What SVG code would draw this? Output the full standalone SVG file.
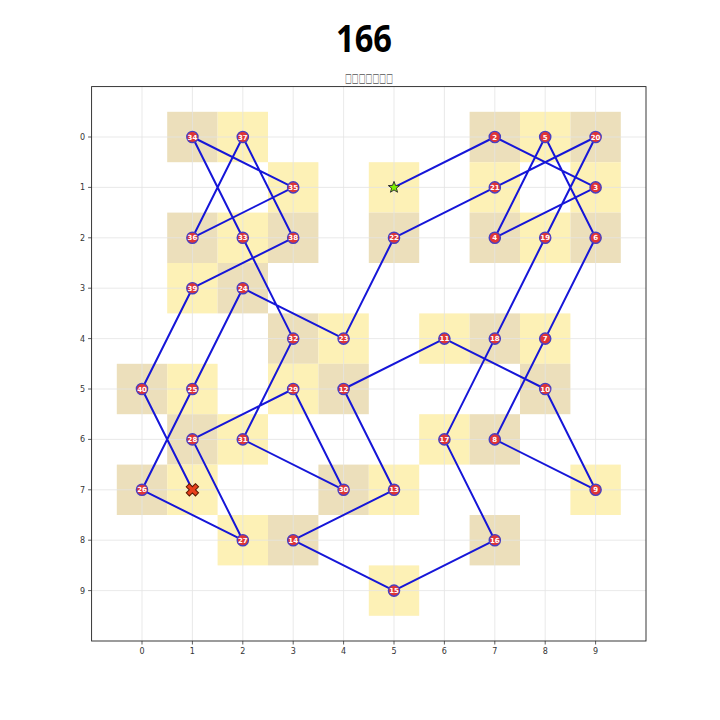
<svg xmlns="http://www.w3.org/2000/svg" width="720" height="720" viewBox="0 0 720 720">
<style>
.grid{stroke:#e3e3e3;stroke-width:0.8}
.cy{fill:#fdf1b6}
.ct{fill:#ecdfbb}
.tick{stroke:#333;stroke-width:0.8}
.tl{font-family:"DejaVu Sans",sans-serif;font-size:8px;fill:#333}
.nd circle{fill:#e03535;stroke:#4a3fc0;stroke-width:1.4}
.nd text{font-family:"DejaVu Sans",sans-serif;font-size:7px;font-weight:bold;fill:#fff;text-anchor:middle}
.path{fill:none;stroke:#1616d8;stroke-width:2;stroke-linejoin:round}
</style>
<rect width="720" height="720" fill="#fff"/>
<text x="336" y="52" font-family="Noto Sans,Open Sans,sans-serif" font-size="37" font-weight="bold" textLength="56" lengthAdjust="spacingAndGlyphs" fill="#000">166</text>
<text x="345" y="82" font-family="DejaVu Sans,sans-serif" font-size="12" textLength="48" lengthAdjust="spacingAndGlyphs" fill="#555">□□□□□□□</text>
<g id="cells">
<rect class="ct" x="167.2" y="111.8" width="50.4" height="50.4"/>
<rect class="cy" x="217.6" y="111.8" width="50.4" height="50.4"/>
<rect class="ct" x="469.6" y="111.8" width="50.4" height="50.4"/>
<rect class="cy" x="520" y="111.8" width="50.4" height="50.4"/>
<rect class="ct" x="570.4" y="111.8" width="50.4" height="50.4"/>
<rect class="cy" x="268" y="162.2" width="50.4" height="50.4"/>
<rect class="cy" x="368.8" y="162.2" width="50.4" height="50.4"/>
<rect class="cy" x="469.6" y="162.2" width="50.4" height="50.4"/>
<rect class="cy" x="570.4" y="162.2" width="50.4" height="50.4"/>
<rect class="ct" x="167.2" y="212.6" width="50.4" height="50.4"/>
<rect class="cy" x="217.6" y="212.6" width="50.4" height="50.4"/>
<rect class="ct" x="268" y="212.6" width="50.4" height="50.4"/>
<rect class="ct" x="368.8" y="212.6" width="50.4" height="50.4"/>
<rect class="ct" x="469.6" y="212.6" width="50.4" height="50.4"/>
<rect class="cy" x="520" y="212.6" width="50.4" height="50.4"/>
<rect class="ct" x="570.4" y="212.6" width="50.4" height="50.4"/>
<rect class="cy" x="167.2" y="263" width="50.4" height="50.4"/>
<rect class="ct" x="217.6" y="263" width="50.4" height="50.4"/>
<rect class="ct" x="268" y="313.4" width="50.4" height="50.4"/>
<rect class="cy" x="318.4" y="313.4" width="50.4" height="50.4"/>
<rect class="cy" x="419.2" y="313.4" width="50.4" height="50.4"/>
<rect class="ct" x="469.6" y="313.4" width="50.4" height="50.4"/>
<rect class="cy" x="520" y="313.4" width="50.4" height="50.4"/>
<rect class="ct" x="116.8" y="363.8" width="50.4" height="50.4"/>
<rect class="cy" x="167.2" y="363.8" width="50.4" height="50.4"/>
<rect class="cy" x="268" y="363.8" width="50.4" height="50.4"/>
<rect class="ct" x="318.4" y="363.8" width="50.4" height="50.4"/>
<rect class="ct" x="520" y="363.8" width="50.4" height="50.4"/>
<rect class="ct" x="167.2" y="414.2" width="50.4" height="50.4"/>
<rect class="cy" x="217.6" y="414.2" width="50.4" height="50.4"/>
<rect class="cy" x="419.2" y="414.2" width="50.4" height="50.4"/>
<rect class="ct" x="469.6" y="414.2" width="50.4" height="50.4"/>
<rect class="ct" x="116.8" y="464.6" width="50.4" height="50.4"/>
<rect class="cy" x="167.2" y="464.6" width="50.4" height="50.4"/>
<rect class="ct" x="318.4" y="464.6" width="50.4" height="50.4"/>
<rect class="cy" x="368.8" y="464.6" width="50.4" height="50.4"/>
<rect class="cy" x="570.4" y="464.6" width="50.4" height="50.4"/>
<rect class="cy" x="217.6" y="515" width="50.4" height="50.4"/>
<rect class="ct" x="268" y="515" width="50.4" height="50.4"/>
<rect class="ct" x="469.6" y="515" width="50.4" height="50.4"/>
<rect class="cy" x="368.8" y="565.4" width="50.4" height="50.4"/>
</g>
<g id="grid">
<line class="grid" x1="142" y1="86.6" x2="142" y2="641"/>
<line class="grid" x1="192.4" y1="86.6" x2="192.4" y2="641"/>
<line class="grid" x1="242.8" y1="86.6" x2="242.8" y2="641"/>
<line class="grid" x1="293.2" y1="86.6" x2="293.2" y2="641"/>
<line class="grid" x1="343.6" y1="86.6" x2="343.6" y2="641"/>
<line class="grid" x1="394" y1="86.6" x2="394" y2="641"/>
<line class="grid" x1="444.4" y1="86.6" x2="444.4" y2="641"/>
<line class="grid" x1="494.8" y1="86.6" x2="494.8" y2="641"/>
<line class="grid" x1="545.2" y1="86.6" x2="545.2" y2="641"/>
<line class="grid" x1="595.6" y1="86.6" x2="595.6" y2="641"/>
<line class="grid" x1="91.6" y1="137" x2="646" y2="137"/>
<line class="grid" x1="91.6" y1="187.4" x2="646" y2="187.4"/>
<line class="grid" x1="91.6" y1="237.8" x2="646" y2="237.8"/>
<line class="grid" x1="91.6" y1="288.2" x2="646" y2="288.2"/>
<line class="grid" x1="91.6" y1="338.6" x2="646" y2="338.6"/>
<line class="grid" x1="91.6" y1="389" x2="646" y2="389"/>
<line class="grid" x1="91.6" y1="439.4" x2="646" y2="439.4"/>
<line class="grid" x1="91.6" y1="489.8" x2="646" y2="489.8"/>
<line class="grid" x1="91.6" y1="540.2" x2="646" y2="540.2"/>
<line class="grid" x1="91.6" y1="590.6" x2="646" y2="590.6"/>
</g>
<rect x="91.6" y="86.6" width="554.4" height="554.4" fill="none" stroke="#222" stroke-width="0.9"/>
<g id="ticks">
<line class="tick" x1="142" y1="641" x2="142" y2="644.5"/>
<line class="tick" x1="192.4" y1="641" x2="192.4" y2="644.5"/>
<line class="tick" x1="242.8" y1="641" x2="242.8" y2="644.5"/>
<line class="tick" x1="293.2" y1="641" x2="293.2" y2="644.5"/>
<line class="tick" x1="343.6" y1="641" x2="343.6" y2="644.5"/>
<line class="tick" x1="394" y1="641" x2="394" y2="644.5"/>
<line class="tick" x1="444.4" y1="641" x2="444.4" y2="644.5"/>
<line class="tick" x1="494.8" y1="641" x2="494.8" y2="644.5"/>
<line class="tick" x1="545.2" y1="641" x2="545.2" y2="644.5"/>
<line class="tick" x1="595.6" y1="641" x2="595.6" y2="644.5"/>
<line class="tick" x1="88.1" y1="137" x2="91.6" y2="137"/>
<line class="tick" x1="88.1" y1="187.4" x2="91.6" y2="187.4"/>
<line class="tick" x1="88.1" y1="237.8" x2="91.6" y2="237.8"/>
<line class="tick" x1="88.1" y1="288.2" x2="91.6" y2="288.2"/>
<line class="tick" x1="88.1" y1="338.6" x2="91.6" y2="338.6"/>
<line class="tick" x1="88.1" y1="389" x2="91.6" y2="389"/>
<line class="tick" x1="88.1" y1="439.4" x2="91.6" y2="439.4"/>
<line class="tick" x1="88.1" y1="489.8" x2="91.6" y2="489.8"/>
<line class="tick" x1="88.1" y1="540.2" x2="91.6" y2="540.2"/>
<line class="tick" x1="88.1" y1="590.6" x2="91.6" y2="590.6"/>
<g class="tl" text-anchor="middle">
<text x="142" y="654">0</text><text x="192.4" y="654">1</text><text x="242.8" y="654">2</text><text x="293.2" y="654">3</text><text x="343.6" y="654">4</text><text x="394" y="654">5</text><text x="444.4" y="654">6</text><text x="494.8" y="654">7</text><text x="545.2" y="654">8</text><text x="595.6" y="654">9</text>
</g>
<g class="tl" text-anchor="end">
<text x="85" y="140">0</text><text x="85" y="190.4">1</text><text x="85" y="240.8">2</text><text x="85" y="291.2">3</text><text x="85" y="341.6">4</text><text x="85" y="392">5</text><text x="85" y="442.4">6</text><text x="85" y="492.8">7</text><text x="85" y="543.2">8</text><text x="85" y="593.6">9</text>
</g>
</g>
<g id="connectors">
<polyline class="path" points="394,187.4 494.8,137 595.6,187.4 494.8,237.8 545.2,137 595.6,237.8 545.2,338.6 494.8,439.4 595.6,489.8 545.2,389 444.4,338.6 343.6,389 394,489.8 293.2,540.2 394,590.6 494.8,540.2 444.4,439.4 494.8,338.6 545.2,237.8 595.6,137 494.8,187.4 394,237.8 343.6,338.6 242.8,288.2 192.4,389 142,489.8 242.8,540.2 192.4,439.4 293.2,389 343.6,489.8 242.8,439.4 293.2,338.6 242.8,237.8 192.4,137 293.2,187.4 192.4,237.8 242.8,137 293.2,237.8 192.4,288.2 142,389 192.4,489.8"/>
</g>
<g id="start" transform="translate(394,187.4)">
<polygon points="0,-6 1.47,-2.02 5.71,-1.85 2.38,0.77 3.53,4.85 0,2.5 -3.53,4.85 -2.38,0.77 -5.71,-1.85 -1.47,-2.02" fill="#7cf000" stroke="#333" stroke-width="1"/>
</g>
<g id="end" transform="translate(192.4,489.8) rotate(45)">
<polygon points="-2.2,-6.5 2.2,-6.5 2.2,-2.2 6.5,-2.2 6.5,2.2 2.2,2.2 2.2,6.5 -2.2,6.5 -2.2,2.2 -6.5,2.2 -6.5,-2.2 -2.2,-2.2" fill="#e8401c" stroke="#5a1a00" stroke-width="1"/>
</g>
<g id="nodes">
<g class="nd" id="n2" transform="translate(494.8,137)"><circle r="5.6"/><text y="2.5">2</text></g>
<g class="nd" id="n3" transform="translate(595.6,187.4)"><circle r="5.6"/><text y="2.5">3</text></g>
<g class="nd" id="n4" transform="translate(494.8,237.8)"><circle r="5.6"/><text y="2.5">4</text></g>
<g class="nd" id="n5" transform="translate(545.2,137)"><circle r="5.6"/><text y="2.5">5</text></g>
<g class="nd" id="n6" transform="translate(595.6,237.8)"><circle r="5.6"/><text y="2.5">6</text></g>
<g class="nd" id="n7" transform="translate(545.2,338.6)"><circle r="5.6"/><text y="2.5">7</text></g>
<g class="nd" id="n8" transform="translate(494.8,439.4)"><circle r="5.6"/><text y="2.5">8</text></g>
<g class="nd" id="n9" transform="translate(595.6,489.8)"><circle r="5.6"/><text y="2.5">9</text></g>
<g class="nd" id="n10" transform="translate(545.2,389)"><circle r="5.6"/><text y="2.5">10</text></g>
<g class="nd" id="n11" transform="translate(444.4,338.6)"><circle r="5.6"/><text y="2.5">11</text></g>
<g class="nd" id="n12" transform="translate(343.6,389)"><circle r="5.6"/><text y="2.5">12</text></g>
<g class="nd" id="n13" transform="translate(394,489.8)"><circle r="5.6"/><text y="2.5">13</text></g>
<g class="nd" id="n14" transform="translate(293.2,540.2)"><circle r="5.6"/><text y="2.5">14</text></g>
<g class="nd" id="n15" transform="translate(394,590.6)"><circle r="5.6"/><text y="2.5">15</text></g>
<g class="nd" id="n16" transform="translate(494.8,540.2)"><circle r="5.6"/><text y="2.5">16</text></g>
<g class="nd" id="n17" transform="translate(444.4,439.4)"><circle r="5.6"/><text y="2.5">17</text></g>
<g class="nd" id="n18" transform="translate(494.8,338.6)"><circle r="5.6"/><text y="2.5">18</text></g>
<g class="nd" id="n19" transform="translate(545.2,237.8)"><circle r="5.6"/><text y="2.5">19</text></g>
<g class="nd" id="n20" transform="translate(595.6,137)"><circle r="5.6"/><text y="2.5">20</text></g>
<g class="nd" id="n21" transform="translate(494.8,187.4)"><circle r="5.6"/><text y="2.5">21</text></g>
<g class="nd" id="n22" transform="translate(394,237.8)"><circle r="5.6"/><text y="2.5">22</text></g>
<g class="nd" id="n23" transform="translate(343.6,338.6)"><circle r="5.6"/><text y="2.5">23</text></g>
<g class="nd" id="n24" transform="translate(242.8,288.2)"><circle r="5.6"/><text y="2.5">24</text></g>
<g class="nd" id="n25" transform="translate(192.4,389)"><circle r="5.6"/><text y="2.5">25</text></g>
<g class="nd" id="n26" transform="translate(142,489.8)"><circle r="5.6"/><text y="2.5">26</text></g>
<g class="nd" id="n27" transform="translate(242.8,540.2)"><circle r="5.6"/><text y="2.5">27</text></g>
<g class="nd" id="n28" transform="translate(192.4,439.4)"><circle r="5.6"/><text y="2.5">28</text></g>
<g class="nd" id="n29" transform="translate(293.2,389)"><circle r="5.6"/><text y="2.5">29</text></g>
<g class="nd" id="n30" transform="translate(343.6,489.8)"><circle r="5.6"/><text y="2.5">30</text></g>
<g class="nd" id="n31" transform="translate(242.8,439.4)"><circle r="5.6"/><text y="2.5">31</text></g>
<g class="nd" id="n32" transform="translate(293.2,338.6)"><circle r="5.6"/><text y="2.5">32</text></g>
<g class="nd" id="n33" transform="translate(242.8,237.8)"><circle r="5.6"/><text y="2.5">33</text></g>
<g class="nd" id="n34" transform="translate(192.4,137)"><circle r="5.6"/><text y="2.5">34</text></g>
<g class="nd" id="n35" transform="translate(293.2,187.4)"><circle r="5.6"/><text y="2.5">35</text></g>
<g class="nd" id="n36" transform="translate(192.4,237.8)"><circle r="5.6"/><text y="2.5">36</text></g>
<g class="nd" id="n37" transform="translate(242.8,137)"><circle r="5.6"/><text y="2.5">37</text></g>
<g class="nd" id="n38" transform="translate(293.2,237.8)"><circle r="5.6"/><text y="2.5">38</text></g>
<g class="nd" id="n39" transform="translate(192.4,288.2)"><circle r="5.6"/><text y="2.5">39</text></g>
<g class="nd" id="n40" transform="translate(142,389)"><circle r="5.6"/><text y="2.5">40</text></g>
</g>
</svg>
